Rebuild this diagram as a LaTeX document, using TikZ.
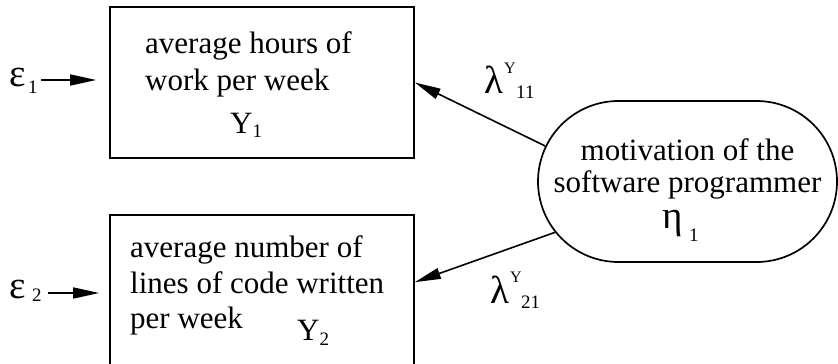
\documentclass[tikz,border=0pt]{standalone}
\usepackage{fontspec}
\setmainfont{Liberation Serif}
\usetikzlibrary{arrows.meta,shapes.misc}

% lowered subscript in a smaller size
\newcommand{\subtxt}[2]{\raisebox{-#1}{\fontsize{19}{19}\selectfont #2}}

\begin{document}
\begin{tikzpicture}[x=1pt,y=-1pt,
  every node/.style={font=\fontsize{31}{37}\selectfont},
  txt/.style={inner sep=0pt,anchor=base west},
  ctxt/.style={inner sep=0pt,anchor=base},
  greek/.style={txt,font=\fontsize{39}{39}\selectfont},
  supY/.style={txt,font=\fontsize{16}{16}\selectfont},
  subnum/.style={txt,font=\fontsize{19}{19}\selectfont},
  indicator/.style={draw,line width=1.7pt,rectangle,inner sep=0pt},
  latent/.style={draw,line width=1.7pt,rounded rectangle,inner sep=0pt},
  arr/.style={line width=1.6pt,-{Triangle[length=26pt,width=11pt]}}]
\useasboundingbox (0,0) rectangle (838,364);
\clip (0,0) rectangle (838,364);

% observed indicators
\node[indicator,minimum width=304pt,minimum height=151pt] (box1) at (262,82.5) {};
\node[indicator,minimum width=304pt,minimum height=170pt] (box2) at (262,300) {};

\node[txt] (t11) at (145,53) {average hours of};
\node[txt] (t12) at (145,90) {work per week};
\node[txt] (y1) at (230,133) {Y\subtxt{4pt}{1}};

\node[txt] (t21) at (130,257) {average number of};
\node[txt] (t22) at (130,293) {lines of code written};
\node[txt] (t23) at (130,328) {per week};
\node[txt] (y2) at (297,340) {Y\subtxt{5pt}{2}};

% latent construct
\node[latent,minimum width=299pt,minimum height=161pt] (eta) at (687.5,181.5) {};
\node[ctxt] (m1) at (687.5,160) {motivation of the};
\node[ctxt] (m2) at (687.5,192) {software programmer};
\node[greek] (m3) at (662,228) {η};
\node[subnum] (m3s) at (689,241) {1};

% error terms
\node[greek] (eps1) at (9,86) {ε};
\node[subnum] (eps1s) at (28,93) {1};
\node[greek] (eps2) at (9,298) {ε};
\node[subnum] (eps2s) at (32,301) {2};

\coordinate (in1) at ([xshift=-13pt]box1.west |- 0,80);
\coordinate (in2) at ([xshift=-10pt]box2.west |- 0,293);
\coordinate (out1) at ([xshift=3pt]eps1s.east |- 0,80);
\coordinate (out2) at ([xshift=6pt]eps2s.east |- 0,293);
\draw[arr] (out1) -- (in1);
\draw[arr] (out2) -- (in2);

% loadings
\coordinate (l2) at ([yshift=-68pt]box2.north east);
\draw[arr] (eta.166) -- (box1.east);
\draw[arr] (eta.201) -- (l2);

\node[greek] (lam1) at (484,93) {λ};
\node[supY] (lam1y) at (504,73) {Y};
\node[subnum] (lam1s) at (516,98) {11};
\node[greek] (lam2) at (490,303) {λ};
\node[supY] (lam2y) at (510,282) {Y};
\node[subnum] (lam2s) at (521,308) {21};
\end{tikzpicture}
\end{document}
